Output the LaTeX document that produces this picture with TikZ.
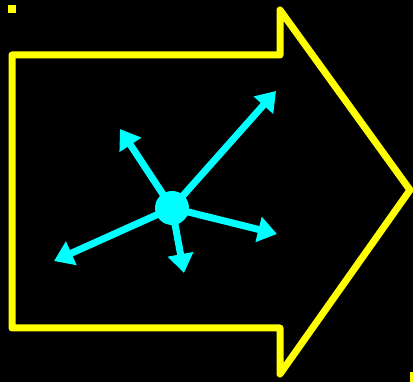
\documentclass[tikz,border=0pt]{standalone}
\usetikzlibrary{arrows.meta}
\definecolor{rayblue}{RGB}{0,255,255}
\definecolor{frameyellow}{RGB}{255,255,0}

\begin{document}
\begin{tikzpicture}[
  x=1pt, y=-1pt,
  outline/.style={draw=frameyellow, line width=7pt, line join=round},
  hub/.style={circle, fill=rayblue, minimum size=34pt, inner sep=0pt},
  ray/.style={draw=rayblue, line width=7pt, -{Triangle[length=19pt, width=25pt]}},
  marker/.style={fill=frameyellow}
]
\useasboundingbox (0,0) rectangle (413,382);
\fill[black] (0,0) rectangle (413,382);

% corner marks
\fill[marker] (8,5) rectangle (16,13);
\fill[marker] (410,372) rectangle (413,382);

% big arrow outline
\draw[outline] (12,55) -- (280,55) -- (280,10) -- (410,190) -- (280,374) -- (280,328) -- (12,328) -- cycle;

% hub and rays
\node[hub] (hub) at (172,208) {};
\coordinate (ne) at (276,91);
\coordinate (nw) at (120,129);
\coordinate (sw) at (54,261);
\coordinate (e) at (277,234);
\coordinate (s) at (184,273);
\foreach \t in {ne,nw,sw,e,s}
  \draw[ray] (hub.center) -- (\t);
\end{tikzpicture}
\end{document}
